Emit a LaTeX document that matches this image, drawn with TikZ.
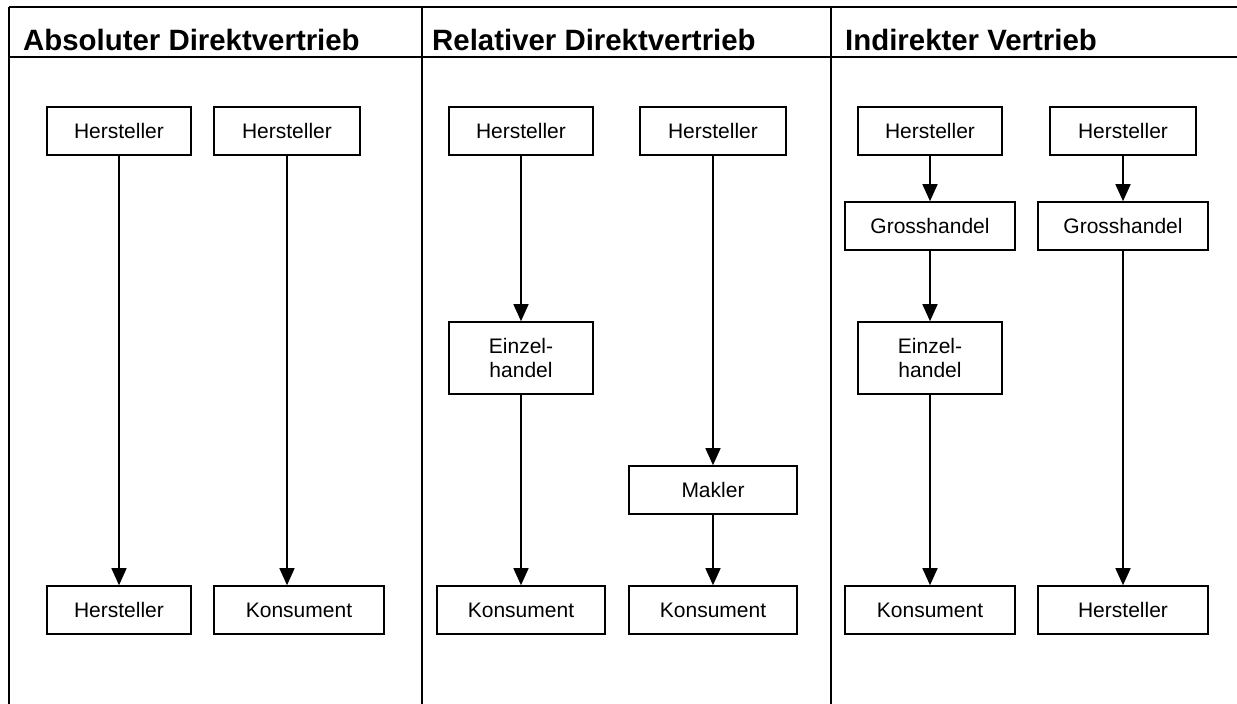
\documentclass[tikz,border=0pt]{standalone}
\usepackage{fontspec}
\setmainfont{Liberation Sans}
\usetikzlibrary{arrows.meta}
\tikzset{
  box/.style={draw, line width=1.6pt, inner sep=0pt, align=center,
    font=\fontsize{21}{24}\selectfont, minimum height=48pt},
  title/.style={anchor=base west, inner sep=0pt,
    font=\fontsize{29.4}{34}\selectfont\bfseries},
  grid/.style={line width=2.4pt},
  flow/.style={line width=1.6pt, -{Triangle[width=15pt,length=17pt]}}
}
\begin{document}
\begin{tikzpicture}[x=1pt,y=-1pt]
\useasboundingbox (0,0) rectangle (1237,704);
% table lines
\coordinate (tl) at (9,7);
\coordinate (tr) at (1237,7);
\coordinate (hl) at (9,57);
\coordinate (hr) at (1237,57);
\coordinate (v1t) at (9,7);
\coordinate (v1b) at (9,704);
\coordinate (v2t) at (422,7);
\coordinate (v2b) at (422,704);
\coordinate (v3t) at (831,7);
\coordinate (v3b) at (831,704);
\draw[grid] (tl) -- (tr);
\draw[grid] (hl) -- (hr);
\draw[grid] (v1t) -- (v1b);
\draw[grid] (v2t) -- (v2b);
\draw[grid] (v3t) -- (v3b);
% titles
\node[title] (t1) at (23,50) {Absoluter Direktvertrieb};
\node[title] (t2) at (432,50) {Relativer Direktvertrieb};
\node[title] (t3) at (845,50) {Indirekter Vertrieb};
% column 1
\node[box, minimum width=144pt] (a1) at (119,131) {Hersteller};
\node[box, minimum width=146pt] (a2) at (287,131) {Hersteller};
\node[box, minimum width=144pt] (a3) at (119,610) {Hersteller};
\node[box, minimum width=170pt] (a4) at (299,610) {Konsument};
\draw[flow] (a1.south) -- (a3.north);
\draw[flow] (a2.south) -- (a2.south |- a4.north);
% column 2
\node[box, minimum width=144pt] (b1) at (521,131) {Hersteller};
\node[box, minimum width=146pt] (b2) at (713,131) {Hersteller};
\node[box, minimum width=144pt, minimum height=72pt] (b3) at (521,358) {Einzel-\\handel};
\node[box, minimum width=168pt] (b4) at (713,490) {Makler};
\node[box, minimum width=168pt] (b5) at (521,610) {Konsument};
\node[box, minimum width=168pt] (b6) at (713,610) {Konsument};
\draw[flow] (b1.south) -- (b1.south |- b3.north);
\draw[flow] (b3.south) -- (b3.south |- b5.north);
\draw[flow] (b2.south) -- (b2.south |- b4.north);
\draw[flow] (b4.south) -- (b4.south |- b6.north);
% column 3
\node[box, minimum width=144pt] (c1) at (930,131) {Hersteller};
\node[box, minimum width=146pt] (c2) at (1123,131) {Hersteller};
\node[box, minimum width=170pt] (c3) at (930,226) {Grosshandel};
\node[box, minimum width=170pt] (c4) at (1123,226) {Grosshandel};
\node[box, minimum width=144pt, minimum height=72pt] (c5) at (930,358) {Einzel-\\handel};
\node[box, minimum width=170pt] (c6) at (930,610) {Konsument};
\node[box, minimum width=170pt] (c7) at (1123,610) {Hersteller};
\draw[flow] (c1.south) -- (c1.south |- c3.north);
\draw[flow] (c3.south) -- (c3.south |- c5.north);
\draw[flow] (c5.south) -- (c5.south |- c6.north);
\draw[flow] (c2.south) -- (c2.south |- c4.north);
\draw[flow] (c4.south) -- (c4.south |- c7.north);
\end{tikzpicture}
\end{document}
